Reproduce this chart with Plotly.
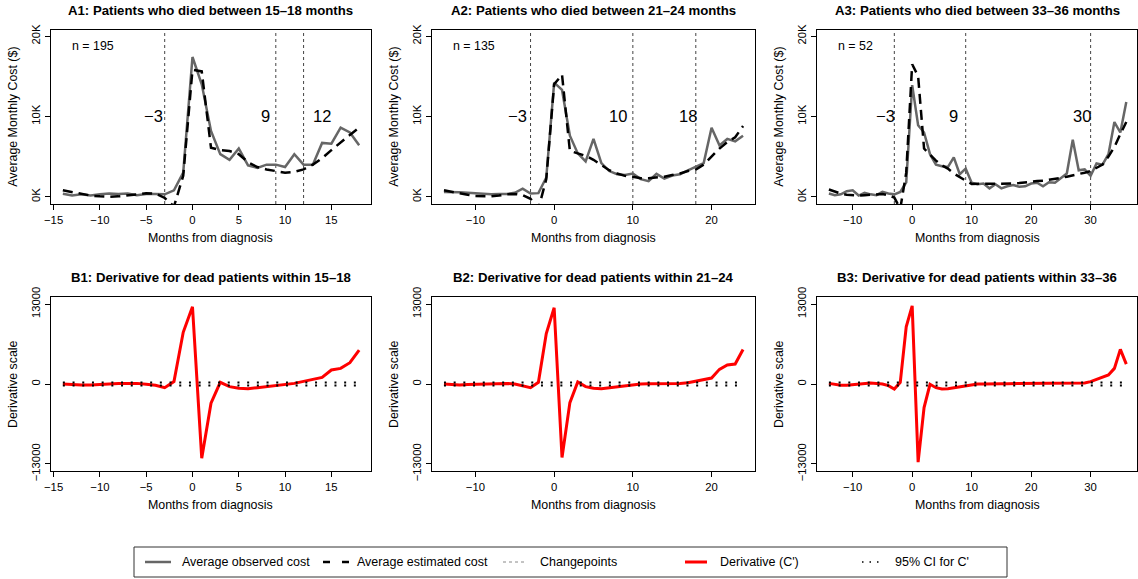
import plotly.graph_objects as go

# ---------------- data ----------------
months1 = list(range(-14, 19))
months2 = list(range(-14, 25))
months3 = list(range(-14, 37))

obs1 = [370, 170, 300, 150, 300, 400, 350, 400, 200, 350, 350, 300,
        800, 3000,
        17400, 14000, 8200, 5300, 4600, 6000, 3900, 3600, 4000, 4000, 3700, 5300,
        4000, 4000, 6700, 6600, 8600, 8000, 6400]
est1 = [800, 600, 350, 150, 50, 0, 50, 150, 300, 450, 400, -150,
        -1200, 2600, 15800, 15600, 6100, 5800, 5700, 5300, 4300, 3700, 3400, 3200,
        3000, 3100, 3400,
        4000, 4800, 5800, 6800, 7700, 8600]
deriv1 = [0, -100, -150, -150, -50, 0, 100, 100, 100, -50, -200, -600,
          400, 8400,
          12550, -12050, -3130, 270, -430, -700, -760, -600, -430, -270, -50, 100,
          430, 760, 1080, 2270, 2540, 3460, 5510]

obs2 = [600, 600, 550, 500, 450, 350, 300, 350, 350, 500, 1000, 400,
        450, 2400,
        14200, 13300, 7600, 5400, 4400, 7200, 4200, 3200, 2800, 2700, 2900, 2200,
        1950, 2850, 2250, 2650, 2800, 3300, 3800, 4200, 8600, 6400, 7200, 6900, 7600]
est2 = [800, 600, 400, 250, 100, 50, 50, 150, 300, 350, 200, -250,
        -1500, 2200, 14000, 15200, 5700, 5400, 5100, 4600, 4000, 3300, 2900, 2600, 2500,
        2300, 2300, 2400, 2500, 2700, 2900, 3200, 3400,
        4000, 5000, 6000, 6800, 7400, 8800]
deriv2 = [0, -100, -150, -100, -50, 50, 100, 150, 100, 0, -270, -600,
          270, 8200,
          12400, -11950, -3030, 320, -430, -700, -760, -600, -430, -270, -100, 0,
          50, 50, 100, 100, 100, 200, 490, 760, 970, 2380, 3080, 3240, 5620]

obs3 = [400, 200, 300, 700, 800, 150, 500, 300, 200, 600, 400, 300,
        600, 1800,
        13900, 8900, 8000, 5300, 4000, 3800, 3700, 4900, 2800, 3500, 1750, 1550,
        1650, 1050, 1550, 1050, 1300, 1450, 1250, 1300, 1650, 1750, 1300, 1800,
        1750, 2350, 2900, 7100, 3300, 3400, 2600, 4150, 4000, 5300, 9300, 8000, 11800]
est3 = [900, 650, 400, 250, 200, 150, 200, 250, 300, 350, 200, -100,
        -1500, 3000, 16500, 15000, 6000, 5200, 4500, 3900, 3500, 2900, 2400, 2000,
        1600, 1600, 1600, 1600, 1600, 1600, 1600, 1650, 1700, 1800, 1900, 1950,
        2000, 2100, 2200, 2350, 2500, 2650, 2800, 3000, 3200,
        3600, 4000, 5000, 6200, 7800, 9300]
deriv3 = [100, -100, -200, -200, -100, 50, 150, 150, 100, 0, -270, -810,
          270, 9300,
          12700, -12700, -3840, -50, -600, -810, -760, -600, -430, -270, -100,
          0, 0, 50, 50, 50, 50, 50, 50, 50, 50, 50, 50, 50, 50, 50, 50, 50,
          50, 150, 380, 700, 1080, 1460, 2540, 5620, 3240]

ci_x1 = [-14, 18]
ci_x2 = [-14, 24]
ci_x3 = [-14, 36]
ci_upper = [250, 250]
ci_lower = [-250, -250]

changepoints1 = [-3, 9, 12]
changepoints2 = [-3, 10, 18]
changepoints3 = [-3, 9, 30]
cp_labels1 = ["\u22123", "9", "12"]
cp_labels2 = ["\u22123", "10", "18"]
cp_labels3 = ["\u22123", "9", "30"]
cp_label_x1 = [-4.2, 7.9, 14.0]
cp_label_x2 = [-4.7, 8.1, 17.0]
cp_label_x3 = [-4.5, 6.9, 28.6]
cp_label_y = 10000

n_labels = ["n = 195", "n = 135", "n = 52"]
titles_A = ["A1: Patients who died between 15\u201318 months",
            "A2: Patients who died between 21\u201324 months",
            "A3: Patients who died between 33\u201336 months"]
titles_B = ["B1: Derivative for dead patients within 15\u201318",
            "B2: Derivative for dead patients within 21\u201324",
            "B3: Derivative for dead patients within 33\u201336"]
xticks1 = [-15, -10, -5, 0, 5, 10, 15]
xticks2 = [-10, 0, 10, 20]
xticks3 = [-10, 0, 10, 20, 30]
yticks_A = [0, 10000, 20000]
yticklabels_A = ["0K", "10K", "20K"]
yticks_B = [-13000, 0, 13000]
yticklabels_B = ["\u221213000", "0", "13000"]

legend_labels = ["Average observed cost", "Average estimated cost", "Changepoints",
                 "Derivative (C')", "95% CI for C'"]

# ---------------- layout geometry (pixels) ----------------
W, H = 1138, 579
FONT = "Liberation Sans, Arial, Helvetica, sans-serif"
col_px = [(51, 371), (432, 755), (817, 1137)]
rowA_px = (29.5, 204)
rowB_px = (297, 471)
xranges = [[-15.28, 19.28], [-15.52, 25.52], [-16, 37.8]]
GRAY = "#666666"
TICK_FS = 11.3
AX_FS = 12.4
TITLE_FS = 13.2


def xdom(c):
    return [c[0] / W, c[1] / W]


def ydom(r):
    return [1 - r[1] / H, 1 - r[0] / H]


fig = go.Figure()

panels = [
    (months1, obs1, est1, deriv1, ci_x1, changepoints1, cp_labels1, cp_label_x1, xticks1),
    (months2, obs2, est2, deriv2, ci_x2, changepoints2, cp_labels2, cp_label_x2, xticks2),
    (months3, obs3, est3, deriv3, ci_x3, changepoints3, cp_labels3, cp_label_x3, xticks3),
]

layout = dict(
    width=W, height=H, autosize=False,
    margin=dict(l=0, r=0, t=0, b=0, pad=0),
    paper_bgcolor="white", plot_bgcolor="white",
    showlegend=False,
    font=dict(family=FONT, size=11, color="black"),
)
annotations = []
shapes = []


def axis_style(**kw):
    d = dict(showline=True, mirror=True, linecolor="black", linewidth=1,
             ticks="outside", ticklen=5, tickcolor="black", tickwidth=1,
             showgrid=False, zeroline=False, automargin=False,
             tickfont=dict(family=FONT, size=TICK_FS, color="black"))
    d.update(kw)
    return d


for i, (mo, ob, es, de, cix, cps, cpl, cplx, xt) in enumerate(panels):
    ia = i + 1
    ib = i + 4
    xa = "x" if ia == 1 else f"x{ia}"
    ya = "y" if ia == 1 else f"y{ia}"
    xb = f"x{ib}"
    yb = f"y{ib}"

    # --- A panel: observed (grey) and estimated (dashed) cost ---
    fig.add_trace(go.Scatter(x=mo, y=ob, mode="lines", xaxis=xa, yaxis=ya,
                             line=dict(color=GRAY, width=2.5), hoverinfo="skip"))
    fig.add_trace(go.Scatter(x=mo, y=es, mode="lines", xaxis=xa, yaxis=ya,
                             line=dict(color="black", width=2.5, dash="10px,6px"),
                             hoverinfo="skip"))
    # --- B panel: derivative and CI ---
    fig.add_trace(go.Scatter(x=mo, y=de, mode="lines", xaxis=xb, yaxis=yb,
                             line=dict(color="red", width=3), hoverinfo="skip"))
    for cy in (ci_upper, ci_lower):
        fig.add_trace(go.Scatter(x=cix, y=cy, mode="lines", xaxis=xb, yaxis=yb,
                                 line=dict(color="black", width=2, dash="2px,7.7px"),
                                 hoverinfo="skip"))

    kx = "xaxis" if ia == 1 else f"xaxis{ia}"
    ky = "yaxis" if ia == 1 else f"yaxis{ia}"
    layout[kx] = axis_style(domain=xdom(col_px[i]), range=xranges[i], anchor=ya,
                            tickmode="array", tickvals=xt)
    layout[ky] = axis_style(domain=ydom(rowA_px), range=[-900, 20820], anchor=xa,
                            tickmode="array", tickvals=yticks_A,
                            ticktext=yticklabels_A, tickangle=-90)
    layout[f"xaxis{ib}"] = axis_style(domain=xdom(col_px[i]), range=xranges[i],
                                      anchor=yb, tickmode="array", tickvals=xt)
    layout[f"yaxis{ib}"] = axis_style(domain=ydom(rowB_px), range=[-14140, 14140],
                                      anchor=xb, tickmode="array", tickvals=yticks_B,
                                      ticktext=yticklabels_B, tickangle=-90)

    xad = f"{xa} domain"
    yad = f"{ya} domain"
    xbd = f"{xb} domain"
    ybd = f"{yb} domain"

    # changepoint lines + labels
    for cp, lab, lx in zip(cps, cpl, cplx):
        shapes.append(dict(type="line", xref=xa, yref=yad, x0=cp, x1=cp, y0=0, y1=1,
                           line=dict(color="#444444", width=1, dash="dot"), layer="below"))
        annotations.append(dict(x=lx, y=cp_label_y, xref=xa, yref=ya, text=lab,
                                showarrow=False, font=dict(family=FONT, size=16.5),
                                xanchor="center", yanchor="middle"))

    # n label
    annotations.append(dict(x=0, y=1, xref=xad, yref=yad, text=n_labels[i],
                            showarrow=False, xanchor="left", yanchor="middle",
                            xshift=19, yshift=-16.5, font=dict(family=FONT, size=AX_FS)))
    # panel titles
    annotations.append(dict(x=0.5, y=1, xref=xad, yref=yad, text=f"<b>{titles_A[i]}</b>",
                            showarrow=False, xanchor="center", yanchor="middle",
                            yshift=19.5, font=dict(family=FONT, size=TITLE_FS)))
    annotations.append(dict(x=0.5, y=1, xref=xbd, yref=ybd, text=f"<b>{titles_B[i]}</b>",
                            showarrow=False, xanchor="center", yanchor="middle",
                            yshift=20, font=dict(family=FONT, size=TITLE_FS)))
    # axis titles
    for xr, yr, ytxt in ((xad, yad, "Average Monthly Cost ($)"), (xbd, ybd, "Derivative scale")):
        annotations.append(dict(x=0, y=0.5, xref=xr, yref=yr, text=ytxt, textangle=-90,
                                showarrow=False, xanchor="center", yanchor="middle",
                                xshift=-38, font=dict(family=FONT, size=AX_FS)))
        annotations.append(dict(x=0.5, y=0, xref=xr, yref=yr, text="Months from diagnosis",
                                showarrow=False, xanchor="center", yanchor="middle",
                                yshift=-34, font=dict(family=FONT, size=AX_FS)))


# ---------------- legend (drawn manually, R style) ----------------
def px(x):
    return x / W


def py(y):
    return 1 - y / H


shapes.append(dict(type="rect", xref="paper", yref="paper", x0=px(134), x1=px(1007),
                   y0=py(577), y1=py(547), line=dict(color="#333333", width=1)))
ly = 562
sample_specs = [
    (145, 171, dict(color=GRAY, width=2.5)),
    (323, 349, dict(color="black", width=2.5, dash="7px,12px")),
    (503, 526, dict(color="#888888", width=1, dash="dot")),
    (685, 707, dict(color="red", width=3)),
    (862, 880, dict(color="black", width=1.5, dash="1.5px,6px")),
]
text_x = [180, 355, 538, 718, 893]
for (x0, x1, ln), tx, lab in zip(sample_specs, text_x, legend_labels):
    shapes.append(dict(type="line", xref="paper", yref="paper", x0=px(x0), x1=px(x1),
                       y0=py(ly), y1=py(ly), line=ln))
    annotations.append(dict(x=px(tx), y=py(ly), xref="paper", yref="paper", text=lab,
                            showarrow=False, xanchor="left", yanchor="middle",
                            font=dict(family=FONT, size=12.5)))

layout["annotations"] = annotations
layout["shapes"] = shapes
fig.update_layout(**layout)

fig.write_html("out.html")
